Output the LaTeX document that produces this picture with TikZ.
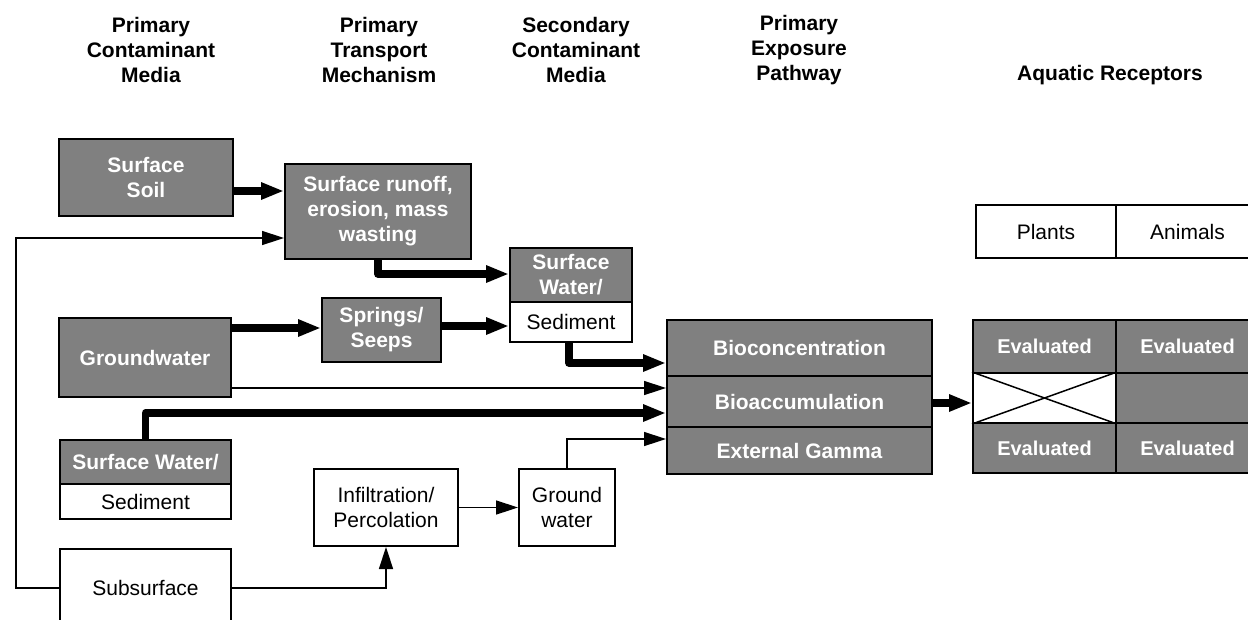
\documentclass[tikz,border=0pt]{standalone}
\usepackage{fontspec}
\setmainfont{Liberation Sans}
\usetikzlibrary{arrows.meta}
\definecolor{boxgray}{RGB}{128,128,128}
\begin{document}
\begin{tikzpicture}[x=1pt,y=-1pt,
 dk/.style={draw=black,line width=2pt,fill=boxgray,text=white,font=\fontsize{21}{25}\selectfont\bfseries,align=center,inner sep=0pt,rectangle},
 wt/.style={draw=black,line width=2pt,fill=white,text=black,font=\fontsize{21}{25}\selectfont,align=center,inner sep=0pt,rectangle},
 hd/.style={font=\fontsize{21}{25}\selectfont\bfseries,align=center,inner sep=0pt},
 thk/.style={line width=7.5pt,line join=round,-{Triangle[length=23pt,width=16pt]}},
 thn/.style={line width=1.5pt,-{Triangle[length=22pt,width=14pt]}},
]
\useasboundingbox (0,0) rectangle (1248,619);
\fill[white] (0,0) rectangle (1248,619);
\clip (0,0) rectangle (1248,619);

% headers
\node[hd] (h1) at (151,50) {Primary\\Contaminant\\Media};
\node[hd] (h2) at (379,50) {Primary\\Transport\\Mechanism};
\node[hd] (h3) at (576,50) {Secondary\\Contaminant\\Media};
\node[hd] (h4) at (799,50) {Primary\\Exposure\\Pathway};
\node[hd] (h5) at (1110,75) {Aquatic Receptors};

% primary media
\node[dk,minimum width=174pt,minimum height=77pt] (ss) at (146,177.5) {Surface\\Soil};
\node[dk,minimum width=172pt,minimum height=79pt] (gw) at (145,357.5) {Groundwater};
\node[dk,minimum width=171pt,minimum height=44pt] (sw1top) at (145.5,462) {Surface Water/};
\node[wt,minimum width=171pt,minimum height=35pt] (sw1bot) at (145.5,501.5) {Sediment};
\node[wt,minimum width=171pt,minimum height=78pt] (sub) at (145.5,588) {Subsurface};

% transport
\node[dk,minimum width=186pt,minimum height=95pt] (ro) at (378,211.5) {Surface runoff,\\erosion, mass\\wasting};
\node[dk,minimum width=119pt,minimum height=64pt] (sp) at (381.5,330) {Springs/\\Seeps};
\node[wt,minimum width=144pt,minimum height=77pt] (inf) at (386,507.5) {Infiltration/\\Percolation};

% secondary
\node[dk,minimum width=122pt,minimum height=54pt] (sw2top) at (571,275) {Surface\\Water/};
\node[wt,minimum width=122pt,minimum height=40pt] (sw2bot) at (571,322) {Sediment};
\node[wt,minimum width=96pt,minimum height=77pt] (gwat) at (567,507.5) {Ground\\water};

% pathway
\node[dk,minimum width=265pt,minimum height=56pt] (bc) at (799.5,348) {Bioconcentration};
\node[dk,minimum width=265pt,minimum height=51pt] (ba) at (799.5,401.5) {Bioaccumulation};
\node[dk,minimum width=265pt,minimum height=47pt] (eg) at (799.5,450.5) {External Gamma};

% receptors
\node[wt,minimum width=140pt,minimum height=53pt] (pl) at (1046,231.5) {Plants};
\node[wt,minimum width=143pt,minimum height=53pt] (an) at (1187.5,231.5) {Animals};
\node[dk,font=\fontsize{20}{24}\selectfont\bfseries,minimum width=143pt,minimum height=53pt] (r11) at (1044.5,346.5) {Evaluated};
\node[dk,font=\fontsize{20}{24}\selectfont\bfseries,minimum width=143pt,minimum height=53pt] (r12) at (1187.5,346.5) {Evaluated};
\node[wt,minimum width=143pt,minimum height=50pt] (r21) at (1044.5,398) {};
\node[dk,minimum width=143pt,minimum height=50pt] (r22) at (1187.5,398) {};
\node[dk,font=\fontsize{20}{24}\selectfont\bfseries,minimum width=143pt,minimum height=50pt] (r31) at (1044.5,448) {Evaluated};
\node[dk,font=\fontsize{20}{24}\selectfont\bfseries,minimum width=143pt,minimum height=50pt] (r32) at (1187.5,448) {Evaluated};
\draw[line width=1.5pt] (r21.north west) -- (r21.south east);
\draw[line width=1.5pt] (r21.south west) -- (r21.north east);

% connectors
\coordinate (a1) at ([yshift=-13.5pt]ss.east);
\draw[thk] (a1) -- (a1 -| ro.west);
\coordinate (fb) at (16,0);
\coordinate (a2) at ([yshift=-26.5pt]ro.west);
\draw[thn] (sub.west) -- (sub.west -| fb) |- (a2);
\coordinate (a3) at ([yshift=1pt]sw2top.west);
\draw[thk] (ro.south) |- (a3);
\coordinate (a4) at ([yshift=29.5pt]gw.east);
\draw[thk] (a4) -- (a4 -| sp.west);
\coordinate (a5) at ([yshift=4pt]sp.east);
\draw[thk] (a5) -- (a5 -| sw2bot.west);
\coordinate (a6) at ([yshift=-15pt]bc.west);
\draw[thk] ([xshift=-2pt]sw2bot.south) |- (a6);
\coordinate (a7) at ([yshift=-30.5pt]gw.east);
\draw[thn] (a7) -- (a7 -| ba.west);
\coordinate (a8) at ([yshift=-11.5pt]ba.west);
\draw[thk] (sw1top.north) |- (a8);
\coordinate (a9) at ([yshift=11.5pt]eg.west);
\draw[thn] (gwat.north) |- (a9);
\draw[thn] (sub.east) -| (inf.south);
\draw[thn] (inf.east) -- (gwat.west);
\coordinate (a12) at ([yshift=-1.5pt]ba.east);
\draw[thk] (a12) -- (a12 -| r21.west);
\end{tikzpicture}
\end{document}
